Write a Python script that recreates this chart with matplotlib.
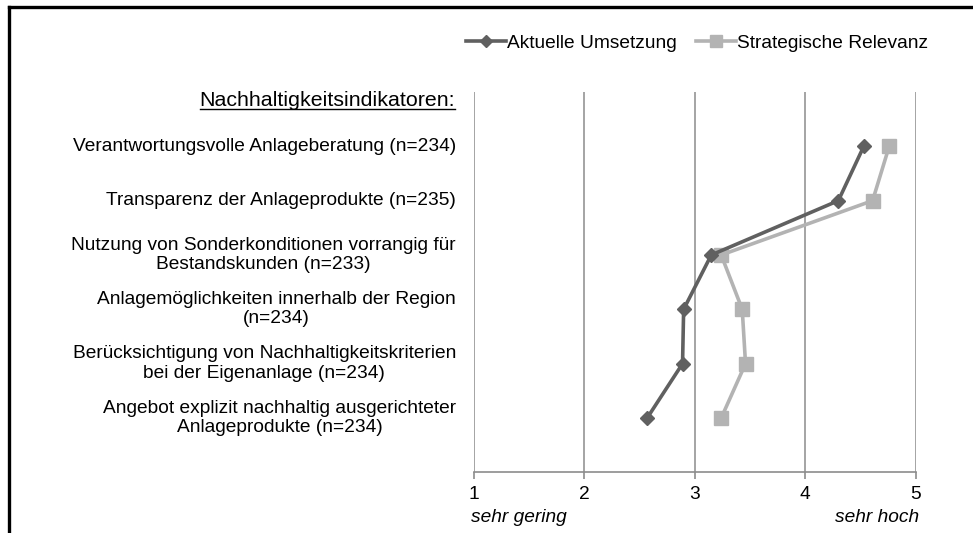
import matplotlib
matplotlib.use("Agg")
import matplotlib.pyplot as plt
from matplotlib.lines import Line2D
import matplotlib.transforms as mtransforms

plt.rcParams['font.family'] = ['Liberation Sans', 'DejaVu Sans']

categories = [
    "Verantwortungsvolle Anlageberatung (n=234)",
    "Transparenz der Anlageprodukte (n=235)",
    "Nutzung von Sonderkonditionen vorrangig für\nBestandskunden (n=233)",
    "Anlagemöglichkeiten innerhalb der Region\n(n=234)",
    "Berücksichtigung von Nachhaltigkeitskriterien\nbei der Eigenanlage (n=234)",
    "Angebot explizit nachhaltig ausgerichteter\nAnlageprodukte (n=234)",
]
aktuelle = [4.53, 4.30, 3.15, 2.90, 2.89, 2.57]
strategische = [4.76, 4.61, 3.24, 3.43, 3.46, 3.24]
series_names = ["Aktuelle Umsetzung", "Strategische Relevanz"]
xticks = [1, 2, 3, 4, 5]
header = "Nachhaltigkeitsindikatoren:"

dark = "#606060"
light = "#b3b3b3"
grid = "#8c8c8c"
fs = 13.8

fig = plt.figure(figsize=(9.73, 5.33), dpi=100)
ax = fig.add_axes([473.7/973, 1-472.3/533, (915.7-473.7)/973, (472.3-92)/533])

ypos = list(range(len(categories)))
ax.plot(aktuelle, ypos, color=dark, lw=2.6, marker='D', ms=7.5, mfc=dark, mec=dark, zorder=3)
ax.plot(strategische, ypos, color=light, lw=2.6, marker='s', ms=9.5, mfc=light, mec=light, zorder=2)

ax.set_xlim(1, 5)
ax.set_ylim(len(categories), -1)
ax.set_xticks(xticks)
ax.set_xticklabels([str(t) for t in xticks], fontsize=fs)
ax.set_yticks([])
for s in ['top', 'right', 'left']:
    ax.spines[s].set_visible(False)
ax.spines['bottom'].set_color(grid)
ax.spines['bottom'].set_linewidth(1.2)
ax.tick_params(axis='x', direction='out', length=5, width=1.2, color=grid, pad=5)
ax.xaxis.grid(True, color=grid, lw=1.1)
ax.set_axisbelow(True)

# category labels
trans = mtransforms.blended_transform_factory(fig.transFigure, ax.transData)
for y, lab in zip(ypos, categories):
    ax.text(456/973, y, lab, transform=trans, ha='right', va='center',
            multialignment='center', fontsize=fs, linespacing=1.18)

hdr = fig.text(455/973, 1-101/533, header, ha='right', va='center', fontsize=15.4)

# axis end labels
fig.text(473.7/973 - 3/973, 1-517/533, "sehr gering", ha='left', va='center', fontsize=fs, style='italic')
fig.text(915.7/973 + 3/973, 1-517/533, "sehr hoch", ha='right', va='center', fontsize=fs, style='italic')

handles = [Line2D([], [], color=dark, lw=2.6, marker='D', ms=6, mfc=dark, mec=dark),
           Line2D([], [], color=light, lw=2.6, marker='s', ms=8, mfc=light, mec=light)]
fig.legend(handles, series_names, loc='center', bbox_to_anchor=(697/973, 1-43/533), ncol=2,
           frameon=False, fontsize=fs, handlelength=2.1, handletextpad=0.05, columnspacing=1.0,
           numpoints=1)

# frame
fig.add_artist(Line2D([8.5/973, 1.0], [1-6.5/533, 1-6.5/533], transform=fig.transFigure, color='black', lw=2.4))
fig.add_artist(Line2D([8.5/973, 8.5/973], [0, 1-6.5/533], transform=fig.transFigure, color='black', lw=2.4))

# underline header
fig.canvas.draw()
bb = hdr.get_window_extent().transformed(fig.transFigure.inverted())
fig.add_artist(Line2D([bb.x0, bb.x1], [bb.y0 + 1.5/533, bb.y0 + 1.5/533], transform=fig.transFigure, color='black', lw=1.0))

fig.savefig("out.png", dpi=100)
